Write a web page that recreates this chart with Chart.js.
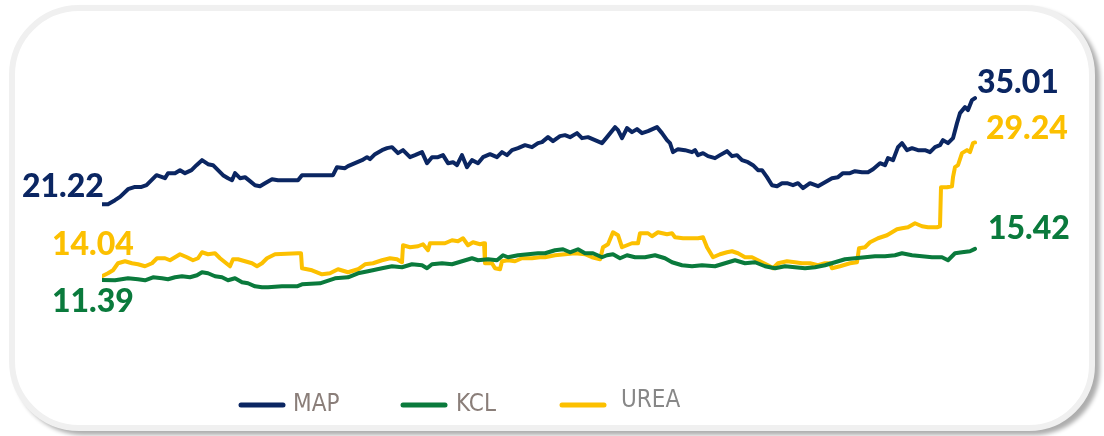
<!DOCTYPE html>
<html>
<head>
<meta charset="utf-8">
<script src="https://cdn.jsdelivr.net/npm/chart.js@4.4.1/dist/chart.umd.min.js"></script>
<style>
    html, body { margin: 0; padding: 0; background: #ffffff; }
    #wrap { position: relative; width: 1104px; height: 436px; overflow: hidden; }
    #card {
        position: absolute; left: 9px; top: 5px; width: 1074px; height: 414px;
        border: 6px solid #f0f0f0; border-radius: 70px 70px 66px 70px;
        box-shadow: 5px 4px 4px rgba(0, 0, 0, 0.32);
        background: #ffffff;
    }
    #chart { position: absolute; left: 0; top: 0; }
</style>
</head>
<body>
<div id="wrap">
    <div id="card"></div>
    <canvas id="chart" width="1104" height="436"></canvas>
</div>
<script>
// weeks from start of the period
const seriesNames = ["MAP", "KCL", "UREA"];
const seriesColors = ["#0b2662", "#0a7a3c", "#fcc000"];
const startLabels = ["21.22", "11.39", "14.04"];
const endLabels = ["35.01", "15.42", "29.24"];

const mapWeeks = [0, 1.2, 2.6, 3.6, 5.2, 6.6, 7.9, 8.9, 9.9, 10.9, 11.9, 12.6, 13.2, 14.6, 15.6, 16.6, 17.9, 18.9, 20.0, 21.2,
    22.2, 23.2, 24.2, 25.2, 26.0, 26.6, 27.6, 28.6, 29.6, 30.6, 31.6, 32.6, 34.0, 35.2, 39.2, 40.0, 43.6, 46.2, 47.0, 48.6,
    49.2, 50.6, 52.0, 53.0, 53.6, 54.6, 56.0, 57.0, 58.0, 59.2, 60.2, 61.6, 62.6, 64.0, 65.0, 66.0, 67.2, 68.2, 69.2, 70.2,
    71.0, 72.0, 73.0, 74.0, 75.2, 76.2, 77.6, 79.0, 80.0, 81.0, 82.0, 83.2, 84.6, 86.0, 87.2, 88.0, 89.2, 90.2, 91.6, 92.6,
    93.6, 95.0, 96.0, 97.2, 98.6, 100.0, 101.0, 102.6, 103.2, 104.0, 105.0, 106.0, 107.0, 108.0, 109.2, 111.0, 112.0, 113.0, 113.6, 114.2,
    115.2, 116.6, 118.0, 118.6, 119.2, 120.2, 121.2, 122.6, 123.6, 125.0, 126.0, 127.0, 128.0, 129.2, 130.2, 131.2, 132.0, 133.0, 134.0, 135.0,
    136.0, 137.0, 138.2, 139.2, 140.2, 141.6, 143.2, 144.6, 146.0, 147.2, 148.2, 149.6, 150.6, 152.0, 153.2, 154.2, 155.6, 156.6, 157.2, 158.2,
    159.2, 160.0, 161.0, 162.0, 163.2, 164.6, 165.6, 166.6, 167.6, 168.2, 169.2, 170.2, 171.0, 171.6, 172.6, 173.2, 174.0, 174.6];
const mapValues = [21.22, 21.22, 21.74, 22.17, 23.17, 23.47, 23.47, 23.69, 24.34, 24.99, 24.77, 24.60, 25.25, 25.25, 25.64, 25.25, 25.64, 26.29, 26.94, 26.42,
    26.29, 25.64, 24.99, 24.60, 24.34, 25.25, 24.60, 24.73, 24.21, 23.69, 23.56, 23.95, 24.47, 24.34, 24.34, 24.99, 24.99, 24.99, 26.03, 25.90,
    26.16, 26.55, 26.94, 27.33, 27.07, 27.72, 28.24, 28.50, 28.63, 27.85, 28.24, 27.33, 27.59, 27.98, 26.55, 27.33, 27.33, 27.59, 26.55, 26.68,
    26.29, 27.59, 26.03, 26.94, 26.55, 27.33, 27.72, 27.33, 27.98, 27.59, 28.24, 28.50, 28.89, 28.63, 29.15, 29.28, 29.93, 29.41, 30.06, 30.19,
    29.93, 30.45, 29.80, 29.93, 29.54, 29.15, 29.93, 31.23, 30.84, 29.80, 31.10, 30.58, 30.97, 30.45, 30.71, 31.23, 30.45, 29.54, 29.15, 27.98,
    28.37, 28.24, 27.98, 28.24, 27.59, 27.85, 27.46, 27.20, 27.59, 28.11, 27.46, 27.59, 26.94, 26.68, 26.29, 25.64, 25.64, 24.73, 23.69, 23.56,
    23.95, 23.95, 23.69, 23.95, 23.30, 23.95, 23.56, 24.08, 24.60, 24.73, 25.25, 25.25, 25.51, 25.38, 25.38, 25.77, 26.55, 26.29, 27.20, 26.94,
    28.63, 29.15, 28.24, 28.50, 28.24, 28.24, 27.98, 28.63, 28.89, 29.54, 29.15, 29.80, 31.75, 33.05, 33.83, 33.44, 34.74, 35.01];

const kclWeeks = [0, 2.6, 5.2, 7.2, 8.6, 10.2, 12.0, 13.2, 14.6, 16.0, 17.6, 19.0, 20.0, 21.2, 22.6, 24.0, 25.2, 26.6, 28.0, 29.2,
    30.6, 32.0, 33.2, 36.0, 39.0, 40.0, 43.6, 46.6, 49.2, 51.2, 53.2, 56.0, 58.0, 60.0, 62.0, 64.0, 65.0, 66.0, 68.0, 70.0,
    72.0, 74.0, 75.2, 77.2, 79.0, 80.2, 81.2, 83.2, 85.2, 87.2, 88.6, 90.6, 92.2, 93.6, 95.2, 96.6, 98.2, 100.0, 101.0, 102.2,
    103.6, 105.0, 106.6, 108.6, 110.6, 112.6, 114.0, 116.0, 118.0, 120.0, 122.6, 124.6, 126.6, 128.6, 130.6, 132.6, 134.6, 136.6, 138.6, 140.6,
    142.6, 144.6, 146.6, 148.6, 150.6, 152.6, 154.6, 156.6, 158.6, 160.0, 162.0, 164.0, 166.0, 168.0, 169.2, 170.6, 172.0, 173.6, 174.6];
const kclValues = [11.39, 11.34, 11.60, 11.47, 11.34, 11.73, 11.60, 11.47, 11.73, 11.86, 11.73, 11.99, 12.38, 12.25, 11.86, 11.73, 11.34, 11.60, 11.08, 10.95,
    10.56, 10.43, 10.43, 10.56, 10.56, 10.82, 10.95, 11.60, 11.73, 12.25, 12.51, 12.90, 13.16, 13.03, 13.42, 13.29, 12.90, 13.42, 13.55, 13.42,
    13.81, 14.20, 13.94, 14.07, 13.94, 14.59, 14.33, 14.59, 14.72, 14.85, 14.85, 15.24, 15.37, 14.98, 15.37, 14.85, 14.85, 14.33, 14.59, 14.72,
    14.20, 14.59, 14.33, 14.33, 14.59, 14.20, 13.68, 13.29, 13.16, 13.29, 13.16, 13.55, 13.94, 13.55, 13.68, 13.16, 12.90, 13.16, 13.03, 12.90,
    13.03, 13.29, 13.68, 14.07, 14.20, 14.33, 14.46, 14.46, 14.59, 14.85, 14.59, 14.46, 14.33, 14.33, 13.94, 14.85, 14.98, 15.11, 15.42];

const ureaWeeks = [0, 1.2, 2.2, 3.2, 4.6, 6.0, 7.2, 8.6, 10.0, 11.0, 12.6, 13.6, 14.6, 15.6, 17.0, 18.2, 19.2, 20.0, 21.2, 22.6,
    23.6, 24.6, 25.6, 26.2, 27.2, 28.6, 30.0, 31.0, 32.0, 33.0, 34.6, 39.2, 39.8, 40.0, 42.0, 44.0, 45.6, 47.2, 49.2, 51.2,
    52.6, 54.2, 56.0, 57.6, 59.0, 60.0, 60.2, 61.6, 63.2, 64.2, 65.2, 65.6, 67.2, 68.6, 70.0, 71.2, 72.2, 73.2, 74.2, 75.6,
    76.4, 76.6, 78.0, 78.6, 79.6, 80.0, 81.2, 82.6, 84.0, 86.0, 87.6, 88.6, 90.6, 92.6, 94.6, 96.6, 98.0, 99.6, 100.2, 101.2,
    102.2, 103.2, 104.0, 105.0, 106.0, 107.2, 107.6, 109.2, 110.0, 111.2, 113.0, 114.0, 114.6, 116.2, 118.0, 119.2, 120.2, 121.0, 122.2, 123.6,
    125.0, 126.0, 127.2, 128.6, 130.0, 131.2, 132.0, 133.2, 134.2, 135.2, 137.0, 138.6, 140.0, 141.6, 143.2, 144.6, 145.6, 146.0, 147.6, 149.6,
    151.0, 151.4, 152.6, 153.6, 155.2, 157.0, 158.0, 159.0, 160.0, 161.2, 162.6, 164.0, 165.2, 167.0, 167.6, 167.8, 169.0, 170.0, 170.2, 170.6,
    171.2, 172.0, 173.0, 173.6, 174.2, 174.6];
const ureaValues = [11.86, 12.25, 12.64, 13.55, 13.81, 13.55, 13.42, 13.16, 13.55, 14.20, 14.20, 13.94, 14.33, 14.72, 14.33, 13.94, 14.20, 14.98, 14.72, 14.85,
    14.20, 13.68, 13.16, 14.07, 14.07, 13.81, 13.55, 13.16, 13.55, 14.20, 14.72, 14.85, 14.85, 12.90, 12.64, 12.12, 12.25, 12.77, 12.38, 12.77,
    13.42, 13.55, 13.94, 14.20, 14.07, 13.68, 15.89, 15.63, 15.76, 16.02, 15.24, 16.15, 16.15, 16.15, 16.54, 16.41, 16.80, 15.89, 16.28, 16.02,
    16.15, 13.55, 13.55, 12.90, 12.77, 13.81, 13.94, 13.81, 14.20, 14.20, 14.33, 14.33, 14.59, 14.72, 14.85, 14.72, 14.33, 14.07, 15.63, 16.02,
    17.58, 17.19, 15.63, 15.89, 16.15, 16.15, 17.45, 17.45, 17.06, 17.58, 17.32, 17.45, 16.93, 16.80, 16.80, 16.80, 16.93, 15.63, 14.33, 14.72,
    14.98, 15.11, 14.85, 14.33, 14.33, 13.94, 13.68, 13.29, 12.90, 13.55, 13.81, 13.68, 13.55, 13.55, 13.29, 13.55, 13.55, 12.90, 13.16, 13.55,
    13.68, 15.50, 15.63, 16.28, 16.80, 17.19, 17.58, 17.97, 18.10, 18.23, 18.75, 18.36, 18.23, 18.23, 18.36, 23.43, 23.43, 23.56, 24.73, 26.03,
    26.29, 27.85, 28.24, 27.98, 29.15, 29.24];

// label offsets from first / last point of each line
const startOffsets = [[-80, -18], [-50, 22], [-50, -32]];
const endOffsets = [[2, -15], [13, -20], [11, -14]];

function toPoints(weeks, values) {
    return weeks.map((w, i) => ({ x: w, y: values[i] }));
}

const endLabelPlugin = {
    id: "endLabels",
    afterDatasetsDraw(chart) {
        const ctx = chart.ctx;
        ctx.save();
        ctx.font = "900 32px Lato";
        ctx.textAlign = "left";
        ctx.textBaseline = "middle";
        chart.data.datasets.forEach((ds, i) => {
            const pts = chart.getDatasetMeta(i).data;
            const first = pts[0];
            const last = pts[pts.length - 1];
            ctx.fillStyle = ds.borderColor;
            ctx.fillText(startLabels[i], first.x + startOffsets[i][0], first.y + startOffsets[i][1]);
            ctx.fillText(endLabels[i], last.x + endOffsets[i][0], last.y + endOffsets[i][1]);
        });
        ctx.restore();
    },
};

const legendPlugin = {
    id: "bottomLegend",
    afterDraw(chart) {
        const ctx = chart.ctx;
        const items = [
            { lx: 241, tx: 293, ty: 405 },
            { lx: 403, tx: 456, ty: 405 },
            { lx: 562, tx: 621, ty: 401 },
        ];
        ctx.save();
        ctx.font = "24px 'Liberation Sans Narrow', 'DejaVu Sans Condensed', sans-serif";
        ctx.textBaseline = "middle";
        chart.data.datasets.forEach((ds, i) => {
            const it = items[i];
            ctx.strokeStyle = ds.borderColor;
            ctx.lineWidth = 5;
            ctx.lineCap = "round";
            ctx.beginPath();
            ctx.moveTo(it.lx, 405);
            ctx.lineTo(it.lx + 42, 405);
            ctx.stroke();
            ctx.fillStyle = i === 2 ? "#878787" : "#8a7e79";
            ctx.fillText(ds.label, it.tx, it.ty);
        });
        ctx.restore();
    },
};

new Chart(document.getElementById("chart"), {
    type: "line",
    data: {
        datasets: [
            { label: seriesNames[0], data: toPoints(mapWeeks, mapValues), borderColor: seriesColors[0] },
            { label: seriesNames[1], data: toPoints(kclWeeks, kclValues), borderColor: seriesColors[1] },
            { label: seriesNames[2], data: toPoints(ureaWeeks, ureaValues), borderColor: seriesColors[2] },
        ],
    },
    options: {
        responsive: false,
        devicePixelRatio: 1,
        animation: false,
        parsing: false,
        layout: {
            padding: { left: 102, right: 127, top: 75, bottom: 130 },
        },
        elements: {
            line: { borderWidth: 4, tension: 0, borderJoinStyle: "round", borderCapStyle: "round" },
            point: { radius: 0 },
        },
        plugins: {
            legend: { display: false },
            tooltip: { enabled: false },
        },
        scales: {
            x: { type: "linear", min: 0, max: 175, display: false },
            y: { type: "linear", min: 8, max: 38, display: false },
        },
    },
    plugins: [endLabelPlugin, legendPlugin],
});
</script>
</body>
</html>
